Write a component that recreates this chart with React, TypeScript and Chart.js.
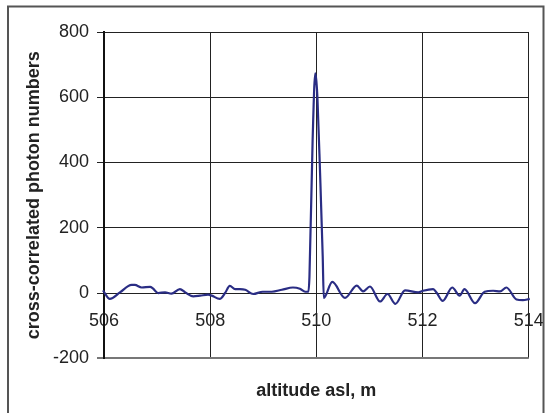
import React, { useEffect, useRef } from "react";
import { Chart, registerables } from "chart.js";

Chart.register(...registerables);

// altitude above sea level, m
const altitude = [
  505.98, 506.11, 506.3, 506.52, 506.58, 506.71, 506.87, 506.92, 507.02, 507.15,
  507.27, 507.43, 507.53, 507.68, 507.81, 507.96, 508.03, 508.18, 508.28, 508.37,
  508.47, 508.56, 508.66, 508.81, 508.99, 509.16, 509.35, 509.56, 509.69, 509.79,
  509.85, 509.87, 509.93, 509.98, 510.0, 510.02, 510.07, 510.12, 510.14, 510.3,
  510.54, 510.76, 510.88, 511.01, 511.2, 511.34, 511.49, 511.67, 511.92, 512.01,
  512.2, 512.27, 512.38, 512.56, 512.7, 512.79, 512.99, 513.17, 513.33, 513.46,
  513.58, 513.77, 513.89, 514.02, 514.06,
];

// cross-correlated photon numbers
const photons = [
  8, -18, 2, 25, 25, 17, 19, 14, 0, 2,
  -2, 12, 2, -10, -8, -5, -8, -18, 0, 22,
  12, 12, 10, -3, 4, 4, 10, 17, 13, 4,
  4, 50, 470, 673, 650, 600, 368, 112, -15, 34,
  -15, 23, 5, 20, -26, -3, -33, 8, 2, 7,
  12, 0, -24, 17, -8, 12, -31, 4, 7, 5,
  17, -20, -22, -18, -17,
];

const xTickValues = [506, 508, 510, 512, 514];
const yTickValues = [-200, 0, 200, 400, 600, 800];

const xTitle = "altitude asl, m";
const yTitle = "cross-correlated photon numbers";

const FONT = "Arial, 'Liberation Sans', sans-serif";

const framePlugin = {
  id: "frame",
  beforeDraw(chart: any) {
    const ctx = chart.ctx;
    ctx.save();
    ctx.fillStyle = "#ffffff";
    ctx.fillRect(0, 0, chart.width, chart.height);
    ctx.restore();
  },
  afterDraw(chart: any) {
    const ctx = chart.ctx;
    ctx.save();
    ctx.strokeStyle = "#555555";
    ctx.lineWidth = 2;
    ctx.strokeRect(8, 6.5, 535.5, 430);
    ctx.restore();
  },
};

export default function App() {
  const canvasRef = useRef<HTMLCanvasElement | null>(null);

  useEffect(() => {
    if (!canvasRef.current) return;
    const chart = new Chart(canvasRef.current, {
      type: "line",
      data: {
        datasets: [
          {
            data: altitude.map((x, i) => ({ x, y: photons[i] })),
            borderColor: "#2a2d84",
            borderWidth: 2.2,
            pointRadius: 0,
            fill: false,
            cubicInterpolationMode: "monotone",
            clip: false as any,
          },
        ],
      },
      options: {
        animation: false,
        responsive: false,
        layout: { padding: { top: 32, left: 0, right: 22.3, bottom: 11.5 } },
        plugins: {
          legend: { display: false },
          tooltip: { enabled: false },
          title: {
            display: true,
            text: xTitle,
            position: "bottom",
            fullSize: false,
            color: "#222",
            font: { family: FONT, size: 18, weight: "bold" },
            padding: { top: 21.6, bottom: 0 },
          },
        },
        scales: {
          x: {
            type: "linear",
            min: 506,
            max: 514,
            position: { y: 0 } as any,
            afterBuildTicks: (s: any) => {
              s.ticks = xTickValues.map((v) => ({ value: v }));
            },
            afterFit: (s: any) => {
              s.paddingLeft = 0;
              s.paddingRight = 0;
            },
            grid: { color: "#222", lineWidth: 1, drawTicks: false },
            border: { display: false },
            ticks: {
              padding: 17,
              color: "#222",
              font: { family: FONT, size: 18 },
              maxRotation: 0,
              callback: (v: any) => String(v),
            },
          },
          y: {
            type: "linear",
            min: -200,
            max: 800,
            afterBuildTicks: (s: any) => {
              s.ticks = yTickValues.map((v) => ({ value: v }));
            },
            afterFit: (s: any) => {
              s.width = 104;
            },
            grid: {
              color: (c: any) => (c.tick && c.tick.value === -200 ? "#777" : "#222"),
              lineWidth: (c: any) => (c.tick && c.tick.value === -200 ? 2 : 1),
              tickLength: 7,
            },
            border: { display: true, color: "#111", width: 2 },
            ticks: {
              padding: 8,
              color: "#222",
              font: { family: FONT, size: 18 },
              callback: (v: any) => String(v),
            },
            title: {
              display: true,
              text: yTitle,
              color: "#222",
              font: { family: FONT, size: 18, weight: "bold" },
              padding: { top: 23.2, bottom: 0 },
            },
          },
        },
      },
      plugins: [framePlugin],
    });
    return () => chart.destroy();
  }, []);

  return (
    <div style={{ position: "fixed", left: 0, top: 0, width: 551, height: 413 }}>
      <canvas ref={canvasRef} width={551} height={413} style={{ display: "block" }} />
    </div>
  );
}
